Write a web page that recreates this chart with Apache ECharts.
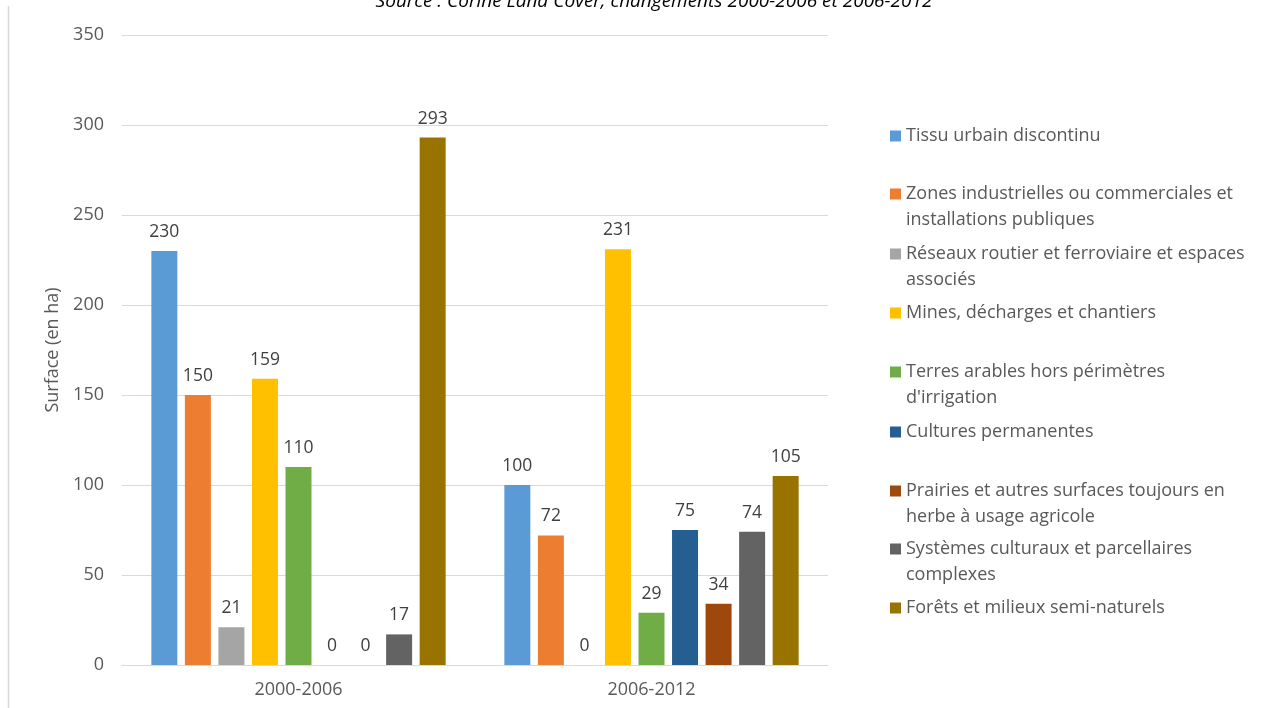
<!DOCTYPE html>
<html>
<head>
<meta charset="utf-8">
<script src="https://cdn.jsdelivr.net/npm/echarts@6/dist/echarts.min.js"></script>
<style>
html,body{margin:0;padding:0;background:#fff;}
#chart{width:1279px;height:708px;}
</style>
</head>
<body>
<div id="chart"></div>
<script>
const categories = ['2000-2006', '2006-2012'];
const seriesNames = [
  'Tissu urbain discontinu',
  'Zones industrielles ou commerciales et installations publiques',
  'Réseaux routier et ferroviaire et espaces associés',
  'Mines, décharges et chantiers',
  "Terres arables hors périmètres d'irrigation",
  'Cultures permanentes',
  'Prairies et autres surfaces toujours en herbe à usage agricole',
  'Systèmes culturaux et parcellaires complexes',
  'Forêts et milieux semi-naturels'
];
const legendLines = [
  ['Tissu urbain discontinu'],
  ['Zones industrielles ou commerciales et', 'installations publiques'],
  ['Réseaux routier et ferroviaire et espaces', 'associés'],
  ['Mines, décharges et chantiers'],
  ['Terres arables hors périmètres', "d'irrigation"],
  ['Cultures permanentes'],
  ['Prairies et autres surfaces toujours en', 'herbe à usage agricole'],
  ['Systèmes culturaux et parcellaires', 'complexes'],
  ['Forêts et milieux semi-naturels']
];
const values2000_2006 = [230, 150, 21, 159, 110, 0, 0, 17, 293];
const values2006_2012 = [100, 72, 0, 231, 29, 75, 34, 74, 105];
const colors = ['#5B9BD5', '#ED7D31', '#A5A5A5', '#FFC000', '#70AD47', '#255E91', '#9E480E', '#636363', '#997300'];
const yTicks = [0, 50, 100, 150, 200, 250, 300, 350];

const FONT = 'Open Sans';
const FS = 17.5;
const LFS = 18;
const legendFirstLineY = [136, 194, 254, 313, 372, 432, 491, 549, 608];
const L = 26;

const series = seriesNames.map((name, i) => ({
  name: name,
  type: 'bar',
  barWidth: 26,
  barGap: '29%',
  itemStyle: { color: colors[i] },
  label: {
    show: true, position: 'top', distance: 10,
    color: '#404040', fontFamily: FONT, fontSize: FS
  },
  data: [values2000_2006[i], values2006_2012[i]]
}));

const legends = seriesNames.map((name, i) => {
  const two = legendLines[i].length > 1;
  return {
    data: [name],
    orient: 'vertical',
    left: 890,
    top: legendFirstLineY[i] - (two ? 1.5 * L : 0.5 * L),
    padding: 0,
    itemWidth: 11,
    itemHeight: 11,
    itemGap: 0,
    icon: 'rect',
    selectedMode: false,
    formatter: () => two ? ' \n' + legendLines[i].join('\n') : legendLines[i][0],
    textStyle: {
      color: '#595959', fontFamily: FONT, fontSize: LFS, lineHeight: L
    }
  };
});

const chart = echarts.init(document.getElementById('chart'), null, { renderer: 'canvas' });
chart.setOption({
  backgroundColor: '#fff',
  animation: false,
  title: {
    text: 'Source : Corine Land Cover, changements 2000-2006 et 2006-2012',
    left: 649, textAlign: 'center', top: -13,
    textStyle: { fontFamily: FONT, fontStyle: 'italic', fontWeight: 'normal', fontSize: 19, color: '#000' }
  },
  graphic: [{
    type: 'line', shape: { x1: 8.5, y1: 6, x2: 8.5, y2: 708 },
    style: { stroke: '#d9d9d9', lineWidth: 1.5 }
  }],
  legend: legends,
  grid: { left: 122, right: 451, top: 35, bottom: 43 },
  xAxis: {
    type: 'category', data: categories,
    axisLine: { lineStyle: { color: '#d9d9d9' } },
    axisTick: { show: false },
    axisLabel: { color: '#595959', fontFamily: FONT, fontSize: LFS, margin: 16 }
  },
  yAxis: {
    type: 'value', min: 0, max: 350, interval: 50,
    name: 'Surface (en ha)', nameLocation: 'middle', nameGap: 60, nameRotate: 90,
    nameTextStyle: { color: '#595959', fontFamily: FONT, fontSize: LFS },
    axisLine: { show: false }, axisTick: { show: false },
    splitLine: { lineStyle: { color: '#d9d9d9' } },
    axisLabel: {
      color: '#595959', fontFamily: FONT, fontSize: LFS, margin: 18,
      formatter: v => yTicks.includes(v) ? String(v) : ''
    }
  },
  series: series
});
</script>
</body>
</html>
